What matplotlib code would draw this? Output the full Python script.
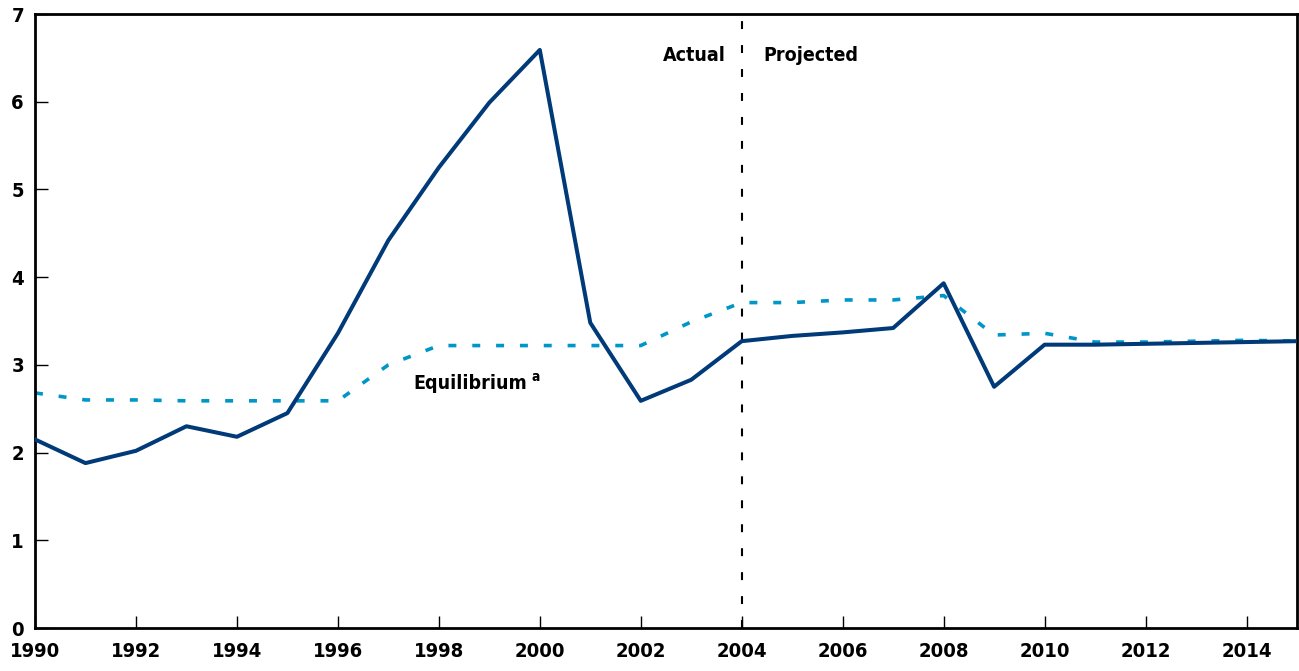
import numpy as np
import matplotlib.pyplot as plt

# 연도별 값
years = list(range(1990, 2016))
actual = [2.15, 1.88, 2.02, 2.30, 2.18, 2.45, 3.36, 4.42, 5.25, 5.99, 6.59,
          3.48, 2.59, 2.83, 3.27, 3.33, 3.37, 3.42, 3.93, 2.75, 3.23,
          3.23, 3.24, 3.25, 3.26, 3.27]
equilibrium = [2.68, 2.60, 2.60, 2.59, 2.59, 2.59, 2.59, 3.00, 3.22, 3.22, 3.22,
               3.22, 3.22, 3.49, 3.71, 3.71, 3.74, 3.74, 3.79, 3.34, 3.36,
               3.26, 3.26, 3.27, 3.28, 3.27]
xticks = list(range(1990, 2016, 2))
yticks = list(range(0, 8))

plt.rcParams['font.family'] = ['DejaVu Sans']
plt.rcParams['font.stretch'] = 'condensed'
plt.rcParams['font.weight'] = 'bold'

fig = plt.figure(figsize=(12.99, 6.71), dpi=100)
ax = fig.add_axes([35 / 1299, 1 - 628 / 671, (1297 - 35) / 1299, (628 - 14) / 671])

ax.plot(years, equilibrium, color='#0096c8', lw=2.6, ls=(0, (2.2, 4.4)), zorder=2)
ax.plot(years, actual, color='#003a78', lw=2.9, zorder=3)
ax.axvline(2004, color='black', lw=1.5, ls=(0, (3.8, 7.7)), zorder=1)

ax.set_xlim(1990, 2015)
ax.set_ylim(0, 7)
ax.set_xticks(xticks)
ax.set_yticks(yticks)
ax.tick_params(direction='in', length=9, width=1, labelsize=14.5, pad=8)
ax.tick_params(axis='x', pad=10)
for s in ax.spines.values():
    s.set_linewidth(2)

ax.text(2003.07, 6.53, 'Actual', fontsize=14, ha='center', va='center')
ax.text(2005.37, 6.53, 'Projected', fontsize=14, ha='center', va='center')
eq = ax.text(1997.49, 2.79, 'Equilibrium', fontsize=14, ha='left', va='center')
ax.annotate('a', xy=(1, 1), xycoords=eq, xytext=(3, 2.5), textcoords='offset points',
            fontsize=10, ha='left', va='top')

fig.savefig('out.png', dpi=100)
